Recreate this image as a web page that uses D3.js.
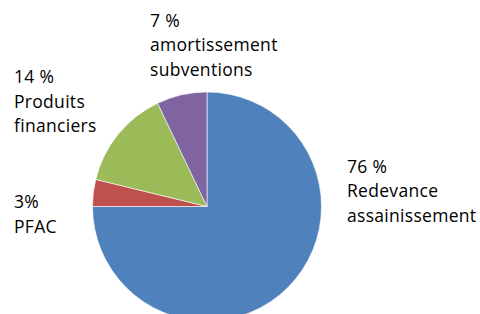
<!DOCTYPE html>
<html><head><meta charset="utf-8">
<script src="https://cdn.jsdelivr.net/npm/d3@7"></script>
<style>html,body{margin:0;padding:0;background:#fff;overflow:hidden}text{font-variant-ligatures:none}</style>
</head><body>
<svg id="c" width="480" height="314"></svg>
<script>
const categories = ["Redevance assainissement", "PFAC", "Produits financiers", "amortissement subventions"];
const values = [75.0, 3.8, 14.1, 7.1];
const pctLabels = ["76 %", "3%", "14 %", "7 %"];
const labelLines = [["Redevance", "assainissement"], ["PFAC"], ["Produits", "financiers"], ["amortissement", "subventions"]];
const colors = ["#4F81BD", "#C0504D", "#9BBB59", "#8064A2"];

const svg = d3.select("#c");
const cx = 207, cy = 206.5, r = 114.5;
const data = categories.map((c, i) => ({c, v: values[i], p: pctLabels[i], lines: labelLines[i], col: colors[i]}));
const pie = d3.pie().value(d => d.v).sort(null);
const arc = d3.arc().innerRadius(0).outerRadius(r);
const g = svg.append("g").attr("transform", `translate(${cx},${cy})`);
g.selectAll("path").data(pie(data)).join("path")
  .attr("d", arc).attr("fill", d => d.data.col)
  .attr("stroke", "#fff").attr("stroke-width", 0.6);

const labelPos = [[347, 172.5], [14, 208.3], [14, 83], [150, 26.7]];
const lh = 24.6;
data.forEach((d, i) => {
  const t = svg.append("text")
    .attr("x", labelPos[i][0]).attr("y", labelPos[i][1])
    .attr("font-family", "'Open Sans', sans-serif")
    .attr("font-size", 17.5).attr("letter-spacing", 0.3).attr("fill", "#000");
  [d.p, ...d.lines].forEach((s, j) => {
    t.append("tspan").attr("x", labelPos[i][0]).attr("dy", j === 0 ? 0 : lh).text(s);
  });
});
</script>
</body></html>
